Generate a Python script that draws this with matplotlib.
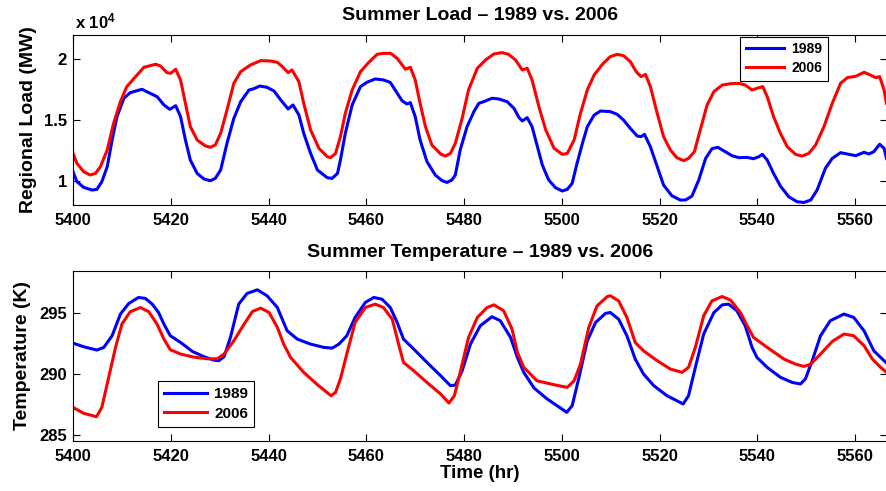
import numpy as np
import matplotlib.pyplot as plt
from matplotlib.ticker import FuncFormatter

plt.rcParams['font.family'] = ['Liberation Sans', 'DejaVu Sans']
plt.rcParams['font.weight'] = 'bold'
plt.rcParams['axes.labelweight'] = 'bold'
plt.rcParams['axes.titleweight'] = 'bold'
plt.rcParams['mathtext.default'] = 'regular'

# (hour of year, regional load in MW)
load_1989 = np.array([
    (5400, 10740), (5400.8, 9920), (5402.2, 9450), (5403.9, 9230), (5404.9, 9290),
    (5405.9, 9920), (5407, 11150), (5408, 13350), (5409, 15280), (5410.4, 16790),
    (5411.7, 17250), (5414.1, 17530), (5415.8, 17200), (5417.2, 16920), (5418.6, 16240),
    (5419.8, 15880), (5421, 16180), (5422, 15280), (5423, 13350), (5424, 11700),
    (5425.4, 10600), (5426.8, 10140), (5428.1, 10000), (5429.1, 10190), (5430.2, 10880),
    (5431.5, 13080), (5432.9, 15140), (5434.3, 16510), (5436, 17470), (5437, 17580),
    (5438.2, 17800), (5439.7, 17690), (5441.1, 17390), (5442.5, 16650), (5444, 15910),
    (5445, 16240), (5446.2, 15420), (5447.2, 13900), (5448.6, 12250), (5450, 10880),
    (5452, 10250), (5453, 10190), (5454.1, 10600), (5454.7, 11700), (5455.7, 13900),
    (5457.1, 16240), (5458.8, 17750), (5460.1, 18100), (5461.8, 18380), (5463.5, 18300),
    (5464.9, 18100), (5465.9, 17470), (5467.3, 16590), (5468.3, 16320), (5469, 16430),
    (5470, 15280), (5471, 13350), (5472.4, 11570), (5474.1, 10470), (5475.5, 10000),
    (5476.5, 9860), (5477.5, 10060), (5478.2, 10470), (5479.2, 12530), (5480.6, 14450),
    (5482, 15690), (5483, 16370), (5484, 16510), (5485.7, 16790), (5487.1, 16730),
    (5488.8, 16510), (5490.2, 15960), (5491.2, 15220), (5491.9, 14920), (5492.9, 15190),
    (5493.9, 14450), (5495, 12800), (5496, 11290), (5497.3, 10060), (5498.7, 9420),
    (5500.1, 9150), (5501.1, 9290), (5502.1, 9780), (5503.1, 11430), (5504.2, 13080),
    (5505.2, 14450), (5506.6, 15410), (5507.9, 15740), (5509.9, 15690), (5511.3, 15470),
    (5512.6, 15000), (5514, 14310), (5515.4, 13680), (5516.2, 13630), (5516.9, 13820),
    (5518.1, 12800), (5519.5, 11150), (5520.8, 9640), (5522.5, 8760), (5524.2, 8410),
    (5525.3, 8410), (5526.6, 8730), (5528, 10060), (5529.4, 11840), (5530.7, 12640),
    (5531.9, 12750), (5533.4, 12390), (5534.8, 12060), (5536.2, 11900), (5537.9, 11920),
    (5539.2, 11810), (5540.3, 11980), (5541, 12170), (5542, 11700), (5543.3, 10600),
    (5544.7, 9560), (5546.4, 8680), (5548.1, 8270), (5549.5, 8210), (5550.9, 8410),
    (5552.2, 9230), (5553.9, 11020), (5555.3, 11840), (5557, 12310), (5558.4, 12200),
    (5560.1, 12060), (5561.8, 12340), (5562.8, 12200), (5563.8, 12390), (5565, 13000),
    (5565.9, 12670), (5566.4, 11840),
])

load_2006 = np.array([
    (5400, 12250), (5400.8, 11430), (5402.2, 10740), (5403.5, 10470), (5404.6, 10600),
    (5405.6, 11150), (5407, 12530), (5408.3, 14730), (5409.7, 16510), (5411, 17750),
    (5412.8, 18570), (5414.5, 19340), (5416.9, 19590), (5417.9, 19450), (5419.2, 18900),
    (5420, 18850), (5421, 19180), (5422, 18300), (5423, 16370), (5424, 14450),
    (5425.4, 13350), (5427.1, 12860), (5428.1, 12750), (5429.1, 12940), (5430.2, 13900),
    (5431.5, 15830), (5432.9, 18020), (5434.3, 18980), (5436.3, 19530), (5438.4, 19890),
    (5440.4, 19860), (5441.8, 19750), (5442.8, 19400), (5444, 18900), (5444.8, 19120),
    (5446.2, 18160), (5447.2, 16370), (5448.6, 14180), (5450.3, 12670), (5452, 11980),
    (5452.7, 11900), (5453.7, 12250), (5454.7, 13630), (5455.7, 15550), (5457.1, 17470),
    (5458.8, 18980), (5460.5, 19750), (5462.2, 20410), (5463.5, 20490), (5465, 20490),
    (5466.3, 20080), (5468, 19180), (5469, 19340), (5470, 18300), (5471, 16370),
    (5472.1, 14450), (5473.4, 12940), (5475.2, 12200), (5476.2, 12030), (5477.2, 12250),
    (5478.2, 13080), (5479.6, 15140), (5480.9, 17470), (5482.7, 19260), (5484.4, 19950),
    (5486.1, 20440), (5487.8, 20550), (5489.1, 20410), (5490.5, 19950), (5491.9, 19120),
    (5492.9, 19260), (5493.9, 18300), (5495.3, 16100), (5496.7, 14180), (5498.4, 12670),
    (5500.1, 12170), (5501.1, 12250), (5502.5, 13350), (5503.8, 15550), (5505.2, 17470),
    (5506.6, 18710), (5508.3, 19590), (5509.9, 20220), (5511.3, 20410), (5512.6, 20300),
    (5514, 19810), (5515.2, 18980), (5516.2, 18570), (5517.1, 18760), (5518.1, 17750),
    (5519.5, 15550), (5520.8, 13630), (5522.2, 12530), (5523.5, 11900), (5524.9, 11650),
    (5525.9, 11840), (5527.1, 12390), (5528.3, 14180), (5529.7, 16240), (5531.1, 17340),
    (5532.8, 17880), (5534.5, 17990), (5536.2, 18020), (5537.5, 17880), (5538.9, 17470),
    (5539.9, 17610), (5541.1, 17750), (5542, 16920), (5543.3, 15280), (5544.7, 13900),
    (5546.1, 12800), (5547.8, 12170), (5549.1, 12030), (5550.5, 12250), (5551.9, 12940),
    (5553.6, 14450), (5555.3, 16370), (5557, 18020), (5558.4, 18490), (5560.1, 18600),
    (5561.8, 18930), (5562.8, 18760), (5564.2, 18490), (5565, 18570), (5565.9, 17470),
    (5566.4, 16370),
])

# (hour of year, temperature in K)
temp_1989 = np.array([
    (5400, 292.55), (5402.2, 292.25), (5404.9, 291.98), (5406.3, 292.2), (5408, 293.16),
    (5409.7, 294.95), (5411.4, 295.82), (5413.4, 296.32), (5414.8, 296.24), (5416.2, 295.77),
    (5417.5, 295.08), (5418.6, 294.12), (5419.9, 293.16), (5422, 292.61), (5424.4, 291.87),
    (5426.8, 291.43), (5428.8, 291.15), (5429.8, 291.1), (5430.9, 291.43), (5432.2, 293.02),
    (5433.9, 295.77), (5435.6, 296.65), (5437.7, 296.95), (5439.7, 296.46), (5441.8, 295.49),
    (5443.8, 293.57), (5445.9, 292.88), (5448.6, 292.47), (5451.3, 292.2), (5453, 292.14),
    (5454.4, 292.47), (5456, 293.16), (5457.7, 294.67), (5459.8, 295.91), (5461.5, 296.32),
    (5463.2, 296.18), (5464.9, 295.49), (5466.3, 294.26), (5467.6, 292.88), (5469.7, 292.06),
    (5472.4, 290.96), (5475.2, 289.86), (5477.2, 289.04), (5478.2, 289.09), (5479.6, 290.27),
    (5481.3, 292.47), (5483.3, 293.98), (5485.7, 294.73), (5487.4, 294.4), (5489.5, 293.02),
    (5490.9, 291.37), (5492.2, 290.14), (5494.3, 288.85), (5497, 287.94), (5499.7, 287.2),
    (5501, 286.84), (5502.1, 287.39), (5503.5, 289.73), (5505.2, 292.75), (5506.9, 294.26),
    (5508.9, 295.0), (5509.9, 295.08), (5511.6, 294.53), (5513.3, 293.16), (5515, 291.24),
    (5516.7, 290.0), (5518.8, 289.04), (5521.5, 288.21), (5523.5, 287.8), (5524.8, 287.53),
    (5525.9, 288.21), (5527.3, 290.55), (5529, 293.3), (5531.1, 295.08), (5532.8, 295.71),
    (5534.1, 295.77), (5535.8, 295.22), (5537.5, 293.98), (5538.9, 292.2), (5539.9, 291.37),
    (5542, 290.55), (5544.7, 289.73), (5547.1, 289.31), (5548.8, 289.18), (5549.8, 289.59),
    (5551.2, 291.1), (5552.9, 293.16), (5554.9, 294.4), (5557.7, 294.95), (5559.7, 294.67),
    (5561.8, 293.57), (5563.8, 291.92), (5565.2, 291.37), (5566.4, 290.91),
])

temp_2006 = np.array([
    (5400, 287.25), (5402.2, 286.76), (5404.8, 286.48), (5405.9, 287.25), (5407.3, 289.73),
    (5408.7, 292.2), (5410, 294.12), (5411.7, 295.14), (5413.8, 295.49), (5415.5, 295.14),
    (5417.2, 294.12), (5418.6, 292.88), (5419.9, 292.01), (5422, 291.65), (5424.7, 291.4),
    (5427.4, 291.26), (5429.5, 291.26), (5430.9, 291.65), (5432.9, 292.75), (5435, 294.12),
    (5436.7, 295.16), (5438.4, 295.44), (5440.1, 295.08), (5441.8, 293.85), (5443.1, 292.47),
    (5444.5, 291.37), (5447.2, 290.14), (5450, 289.12), (5452.8, 288.21), (5453.7, 288.49),
    (5454.7, 289.6), (5456, 291.65), (5457.7, 294.26), (5459.8, 295.49), (5461.8, 295.77),
    (5463.5, 295.49), (5465.3, 294.53), (5466.6, 292.47), (5467.6, 290.96), (5469.7, 290.27),
    (5472.4, 289.31), (5475.2, 288.35), (5476.9, 287.61), (5478, 288.21), (5479.2, 290.14),
    (5480.9, 293.02), (5482.7, 294.67), (5484.7, 295.49), (5486.1, 295.71), (5488.1, 295.22),
    (5489.8, 293.71), (5490.9, 291.79), (5492.2, 290.55), (5494.9, 289.45), (5498.4, 289.12),
    (5501.1, 288.9), (5502.5, 289.45), (5503.8, 290.82), (5505.5, 293.85), (5507.2, 295.63),
    (5509.3, 296.4), (5509.9, 296.46), (5511.6, 296.04), (5513.3, 294.67), (5515, 292.61),
    (5516.7, 291.92), (5519.5, 291.1), (5522.2, 290.41), (5524.6, 290.14), (5525.9, 290.55),
    (5527.3, 292.2), (5529, 294.81), (5530.7, 296.04), (5532.8, 296.4), (5534.5, 296.1),
    (5536.5, 295.08), (5537.9, 293.98), (5539.2, 293.02), (5542, 292.2), (5545.4, 291.24),
    (5547.8, 290.82), (5549.5, 290.63), (5550.9, 290.82), (5552.9, 291.65), (5555.3, 292.69),
    (5557.7, 293.3), (5559.7, 293.16), (5561.8, 292.34), (5563.5, 291.24), (5565.2, 290.55),
    (5566.4, 290.14),
])

years = ['1989', '2006']
colors = ['#0000ff', '#ff0000']
x_ticks = np.arange(5400, 5561, 20)
load_ticks = [10000, 15000, 20000]
temp_ticks = [285, 290, 295]


def matlab_style(ax):
    ax.tick_params(direction='in', top=True, right=True, length=5, width=0.8,
                   labelsize=12)
    ax.tick_params(axis='x', pad=6)
    ax.tick_params(axis='y', pad=4.5)
    for sp in ax.spines.values():
        sp.set_linewidth(0.8)
    ax.set_xlim(5400, 5566.5)
    ax.set_xticks(x_ticks)


fig = plt.figure(figsize=(8.87, 4.91), dpi=100)

# ---------- load ----------
ax1 = fig.add_axes([0.0823, 0.5825, 0.9177, 0.3462])
for series, yr, c in zip([load_1989, load_2006], years, colors):
    ax1.plot(series[:, 0], series[:, 1], color=c, lw=2.2, label=yr)
matlab_style(ax1)
ax1.set_ylim(8000, 22000)
ax1.set_yticks(load_ticks)
ax1.yaxis.set_major_formatter(FuncFormatter(lambda v, p: f'{v / 1e4:g}'))
ax1.set_ylabel('Regional Load (MW)', fontsize=14, labelpad=5)
ax1.set_title('Summer Load \u2013 1989 vs. 2006', fontsize=14, pad=10.5)
ax1.text(0.002, 1.041, r'x 10$^{4}$', transform=ax1.transAxes, fontsize=12,
         va='baseline', ha='left')
leg1 = ax1.legend(loc='upper right', bbox_to_anchor=(0.9275, 0.99), fontsize=10,
                  handlelength=2.8, handletextpad=0.5, borderpad=0.4,
                  labelspacing=0.35, borderaxespad=0, fancybox=False,
                  edgecolor='black', framealpha=1)
leg1.get_frame().set_linewidth(0.8)

# ---------- temperature ----------
ax2 = fig.add_axes([0.0823, 0.1024, 0.9177, 0.3456])
for series, yr, c in zip([temp_1989, temp_2006], years, colors):
    ax2.plot(series[:, 0], series[:, 1], color=c, lw=2.2, label=yr)
matlab_style(ax2)
ax2.set_ylim(284.5, 298.5)
ax2.set_yticks(temp_ticks)
ax2.set_ylabel('Temperature (K)', fontsize=14, labelpad=6)
ax2.set_xlabel('Time (hr)', fontsize=13.5, labelpad=1)
ax2.set_title('Summer Temperature \u2013 1989 vs. 2006', fontsize=14, pad=10)
leg2 = ax2.legend(loc='lower left', bbox_to_anchor=(0.104, 0.0825), fontsize=11,
                  handlelength=2.8, handletextpad=0.5, borderpad=0.4,
                  labelspacing=0.35, borderaxespad=0, fancybox=False,
                  edgecolor='black', framealpha=1)
leg2.get_frame().set_linewidth(0.8)

fig.savefig('out.png', dpi=100)
